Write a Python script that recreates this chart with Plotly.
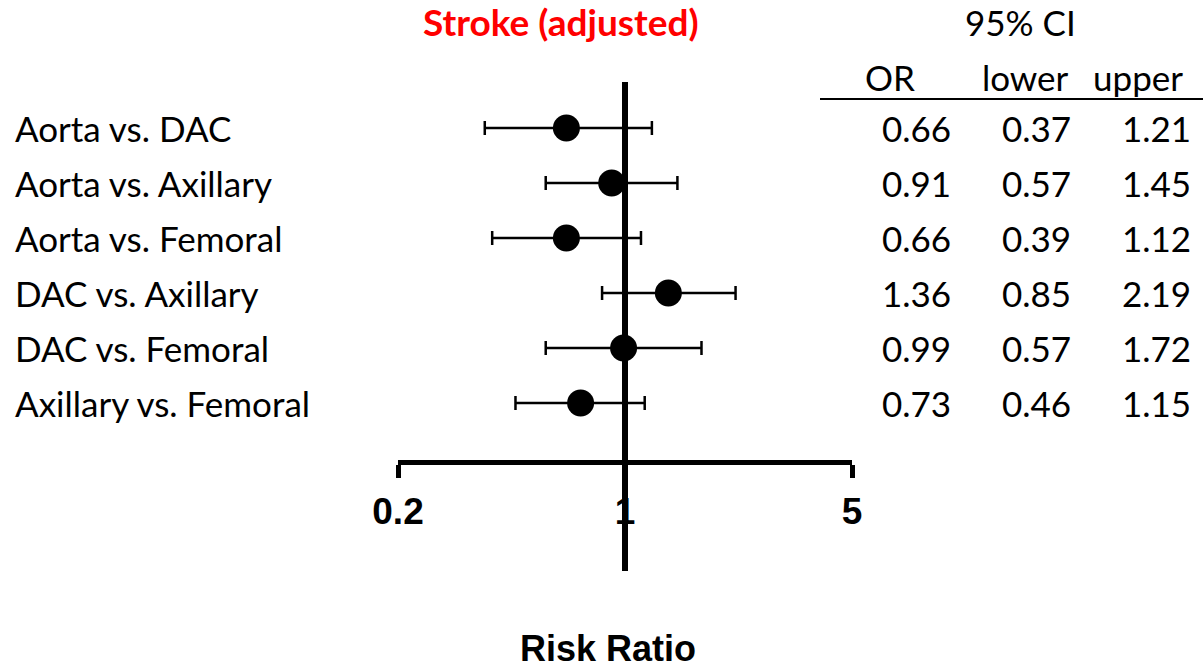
import plotly.graph_objects as go
import numpy as np

labels = ["Aorta vs. DAC", "Aorta vs. Axillary", "Aorta vs. Femoral",
          "DAC vs. Axillary", "DAC vs. Femoral", "Axillary vs. Femoral"]
or_vals = [0.66, 0.91, 0.66, 1.36, 0.99, 0.73]
lower = [0.37, 0.57, 0.39, 0.85, 0.57, 0.46]
upper = [1.21, 1.45, 1.12, 2.19, 1.72, 1.15]
tick_vals = [0.2, 1, 5]
tick_text = ["0.2", "1", "5"]

W, H = 1203, 671
PL, PR = 398, 852      # plot area pixel left/right
PT, PB = 82, 460       # plot area pixel top/bottom
n = len(labels)
ypos = [n - i for i in range(n)]   # 6..1, top to bottom
row_px = 55
ymax = n + (128 - PT) / row_px
ymin = ymax - (PB - PT) / row_px

def px_x(p):
    return (p - PL) / (PR - PL)

def px_y(p):
    return (PB - p) / (PB - PT)

err_plus = [u - o for u, o in zip(upper, or_vals)]
err_minus = [o - l for o, l in zip(or_vals, lower)]

fig = go.Figure()
fig.add_trace(go.Scatter(
    x=or_vals, y=ypos, mode="markers",
    marker=dict(size=27, color="black"),
    error_x=dict(type="data", symmetric=False, array=err_plus, arrayminus=err_minus,
                 color="black", thickness=2.5, width=7),
    cliponaxis=False, showlegend=False, hoverinfo="skip",
))

# reference line at 1
fig.add_shape(type="line", xref="x", yref="paper", x0=1, x1=1,
              y0=px_y(571), y1=1, line=dict(color="black", width=6), layer="above")

# header underline
fig.add_shape(type="line", xref="paper", yref="paper",
              x0=px_x(820), x1=px_x(1203), y0=px_y(99), y1=px_y(99),
              line=dict(color="black", width=2))

FAM = "Lato, Carlito, Calibri, sans-serif"
lab_font = dict(family=FAM, size=35, color="black")
anns = []
for lab, y in zip(labels, ypos):
    anns.append(dict(text=lab, x=px_x(13), y=y, xref="paper", yref="y",
                     xanchor="left", yanchor="middle", showarrow=False, font=lab_font))
cols = [(or_vals, 953), (lower, 1073), (upper, 1193)]
for vals, xr in cols:
    for v, y in zip(vals, ypos):
        anns.append(dict(text=f"{v:.2f}", x=px_x(xr), y=y, xref="paper", yref="y",
                         xanchor="right", yanchor="middle", showarrow=False, font=lab_font))
for t, xc in [("OR", 890), ("lower", 1025), ("upper", 1138)]:
    anns.append(dict(text=t, x=px_x(xc), y=px_y(77), xref="paper", yref="paper",
                     xanchor="center", yanchor="middle", showarrow=False, font=lab_font))
anns.append(dict(text="95% CI", x=px_x(1020), y=px_y(22), xref="paper", yref="paper",
                 xanchor="center", yanchor="middle", showarrow=False, font=lab_font))
anns.append(dict(text="<b>Stroke (adjusted)</b>", x=px_x(561), y=px_y(22), xref="paper", yref="paper",
                 xanchor="center", yanchor="middle", showarrow=False,
                 font=dict(family=FAM, size=37, color="#ff0000")))
anns.append(dict(text="<b>Risk Ratio</b>", x=px_x(608), y=px_y(670), xref="paper", yref="paper",
                 xanchor="center", yanchor="bottom", showarrow=False, borderpad=0,
                 font=dict(family="Liberation Sans, Arial, sans-serif", size=36, color="black")))

fig.update_layout(
    width=W, height=H,
    margin=dict(l=PL, r=W - PR, t=PT, b=H - PB, pad=0),
    paper_bgcolor="white", plot_bgcolor="white",
    annotations=anns,
    xaxis=dict(type="log", range=[np.log10(0.2), np.log10(5)],
               tickvals=tick_vals, ticktext=[f"<b>{t}</b>" for t in tick_text],
               showline=True, linecolor="black", linewidth=5,
               ticks="outside", ticklen=13, tickwidth=5, tickcolor="black",
               showgrid=False, zeroline=False,
               tickfont=dict(family="Liberation Sans, Arial, sans-serif", size=37, color="black"),
               ticklabelstandoff=2),
    yaxis=dict(range=[ymin, ymax], visible=False, showgrid=False, zeroline=False),
)

fig.write_html("out.html", config={"displayModeBar": False},
               post_script="document.body.style.margin='0';")
